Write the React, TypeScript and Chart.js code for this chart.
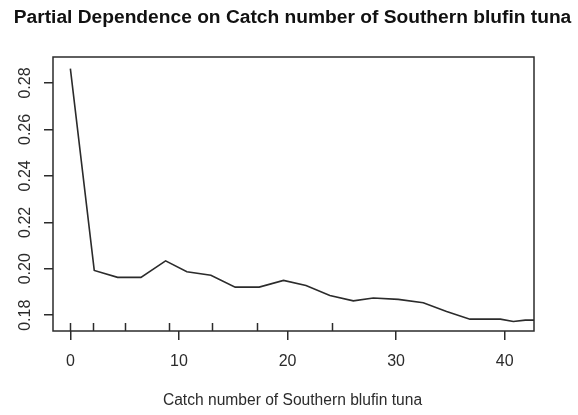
import React, { useEffect, useRef } from "react";
import { Chart, registerables } from "chart.js";

Chart.register(...registerables);

const TITLE = "Partial Dependence on Catch number of Southern blufin tuna";
const X_TITLE = "Catch number of Southern blufin tuna";

const xValues = [0, 2.2, 4.35, 6.5, 8.77, 10.73, 12.94, 15.18, 17.39, 19.63, 21.7, 23.9, 26.06, 27.9, 30.2, 32.5, 34.65, 36.8, 39.6, 40.8, 41.9, 42.7];
const yValues = [0.2862, 0.1993, 0.1963, 0.1963, 0.2034, 0.1987, 0.1972, 0.1921, 0.1921, 0.195, 0.1928, 0.1885, 0.1862, 0.1874, 0.1868, 0.1854, 0.1816, 0.1783, 0.1783, 0.1773, 0.1779, 0.1779];
const rugValues = [0, 2.05, 5.06, 9.04, 13.06, 17.2, 24.1];
const xTicks = [0, 10, 20, 30, 40];
const yTicks = [0.18, 0.2, 0.22, 0.24, 0.26, 0.28];

const INK = "#2b2b2b";
const FONT = "Arial, 'Liberation Sans', sans-serif";

const decorPlugin = {
  id: "decor",
  afterDraw(chart: any) {
    const { ctx, chartArea, scales } = chart;
    const xs = scales.x;
    const ys = scales.y;
    ctx.save();
    // box
    ctx.strokeStyle = INK;
    ctx.lineWidth = 1.5;
    ctx.strokeRect(chartArea.left, chartArea.top, chartArea.right - chartArea.left, chartArea.bottom - chartArea.top);
    // rug
    rugValues.forEach((v) => {
      const px = Math.round(xs.getPixelForValue(v)) + 0.5;
      ctx.beginPath();
      ctx.moveTo(px, chartArea.bottom);
      ctx.lineTo(px, chartArea.bottom - 8);
      ctx.stroke();
    });
    // y labels rotated
    ctx.fillStyle = INK;
    ctx.font = "16px " + FONT;
    ctx.textAlign = "center";
    ctx.textBaseline = "middle";
    yTicks.forEach((v) => {
      const py = ys.getPixelForValue(v);
      ctx.save();
      ctx.translate(26, py);
      ctx.rotate(-Math.PI / 2);
      ctx.fillText(v.toFixed(2), 0, 0);
      ctx.restore();
    });
    // title
    const cx = (chartArea.left + chartArea.right) / 2 - 1;
    ctx.fillStyle = "#111";
    ctx.font = "bold 19.2px " + FONT;
    ctx.fillText(TITLE, cx, 18);
    // x title
    ctx.fillStyle = INK;
    ctx.font = "15.6px " + FONT;
    ctx.fillText(X_TITLE, cx, 401);
    ctx.restore();
  },
};

export default function App() {
  const ref = useRef<HTMLCanvasElement>(null);
  useEffect(() => {
    document.body.style.margin = "0";
    const chart = new Chart(ref.current!, {
      type: "line",
      data: {
        datasets: [
          {
            data: xValues.map((x, i) => ({ x, y: yValues[i] })),
            borderColor: INK,
            borderWidth: 1.6,
            pointRadius: 0,
            tension: 0,
            fill: false,
          },
        ],
      },
      options: {
        animation: false,
        responsive: false,
        maintainAspectRatio: false,
        layout: { padding: { left: 0, right: 44, top: 57, bottom: 0 } },
        plugins: { legend: { display: false }, tooltip: { enabled: false }, title: { display: false } },
        scales: {
          x: {
            type: "linear",
            min: -1.6,
            max: 42.7,
            afterFit: (s: any) => {
              s.height = 415 - 331;
            },
            afterBuildTicks: (s: any) => {
              s.ticks = xTicks.map((v) => ({ value: v }));
            },
            border: { display: false },
            grid: { drawOnChartArea: false, drawTicks: true, tickLength: 9, color: INK, lineWidth: 1.5 },
            ticks: {
              color: INK,
              font: { family: FONT, size: 16 },
              padding: 12,
              maxRotation: 0,
              autoSkip: false,
              callback: (v: any) => String(v),
            },
          },
          y: {
            type: "linear",
            min: 0.1732,
            max: 0.2912,
            afterFit: (s: any) => {
              s.width = 53;
            },
            afterBuildTicks: (s: any) => {
              s.ticks = yTicks.map((v) => ({ value: v }));
            },
            border: { display: false },
            grid: { drawOnChartArea: false, drawTicks: true, tickLength: 9, color: INK, lineWidth: 1.5 },
            ticks: { display: false },
          },
        },
      },
      plugins: [decorPlugin],
    });
    return () => chart.destroy();
  }, []);
  return (
    <div style={{ width: 578, height: 415, background: "#fff" }}>
      <canvas ref={ref} width={578} height={415} style={{ display: "block" }} />
    </div>
  );
}
